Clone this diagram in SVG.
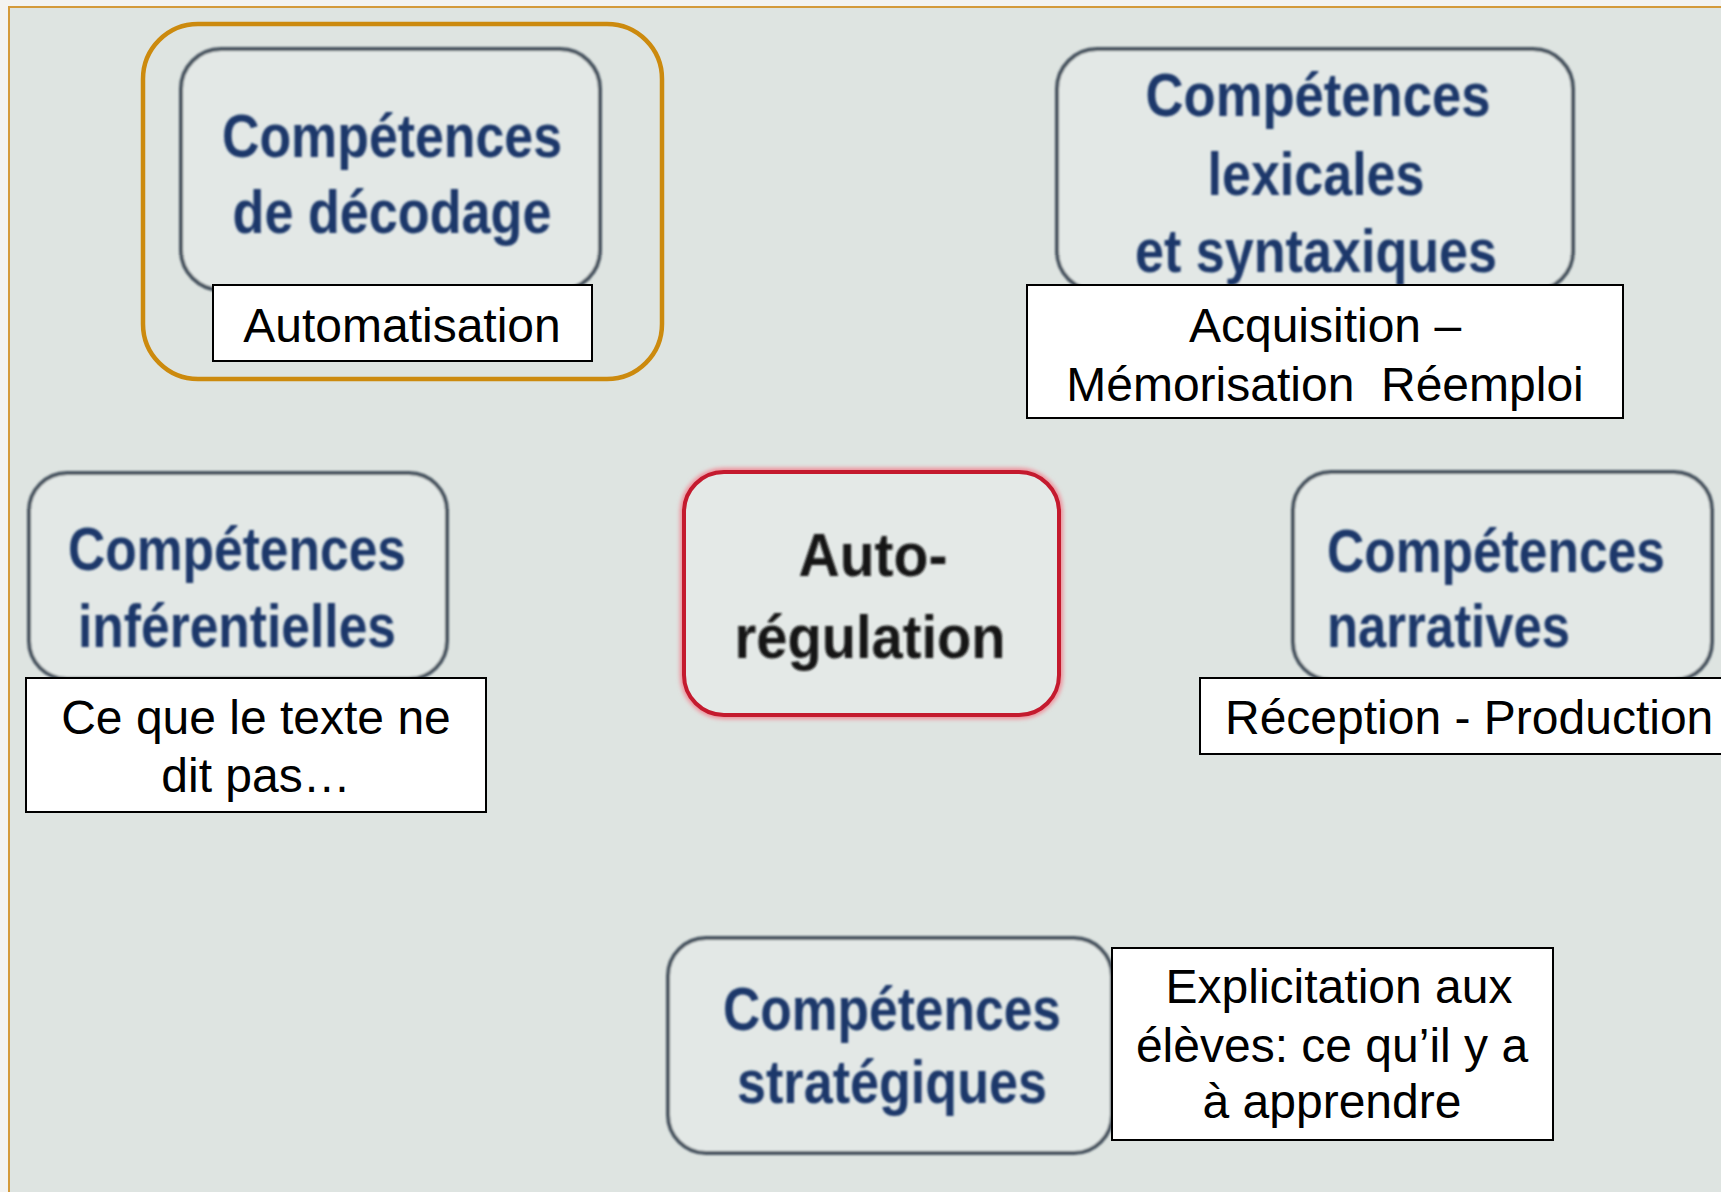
<svg xmlns="http://www.w3.org/2000/svg" width="1721" height="1192" viewBox="0 0 1721 1192">
<defs>
<filter id="soft" x="-5%" y="-5%" width="110%" height="110%"><feGaussianBlur stdDeviation="0.9"/></filter>
<filter id="glow" x="-10%" y="-10%" width="120%" height="120%"><feGaussianBlur stdDeviation="2"/></filter>
<style>
.node{fill:#e3e8e6;stroke:#46525e;stroke-width:4}
.head{font-family:"Liberation Sans",Arial,sans-serif;font-weight:bold;font-size:62px;fill:#1c386b;text-anchor:middle}
.lbl{fill:#ffffff;stroke:#000000;stroke-width:2}
.lt{font-family:"Liberation Sans",Arial,sans-serif;font-size:48px;fill:#000000;text-anchor:middle}
</style>
</defs>
<rect x="0" y="0" width="1721" height="1192" fill="#f3f3f1"/>
<rect x="9" y="7" width="1760" height="1250" fill="#dee4e1" stroke="#d49a3a" stroke-width="2"/>

<g id="connectors"/>

<g id="decodage">
<rect class="node" x="181" y="49" width="419" height="241" rx="40" filter="url(#soft)"/>
<g filter="url(#soft)">
<text class="head" x="392" y="157" textLength="340" lengthAdjust="spacingAndGlyphs">Compétences</text>
<text class="head" x="392" y="233" textLength="319" lengthAdjust="spacingAndGlyphs">de décodage</text>
</g>
<rect class="lbl" x="213" y="285" width="379" height="76"/>
<text class="lt" x="402" y="342">Automatisation</text>
<rect x="143" y="24" width="519" height="355" rx="55" fill="none" stroke="#cc8a0e" stroke-width="4.5"/>
</g>

<g id="lexicales">
<rect class="node" x="1057" y="49" width="516" height="242" rx="40" filter="url(#soft)"/>
<g filter="url(#soft)">
<text class="head" x="1318" y="116" textLength="345" lengthAdjust="spacingAndGlyphs">Compétences</text>
<text class="head" x="1316" y="195" textLength="217" lengthAdjust="spacingAndGlyphs">lexicales</text>
<text class="head" x="1316" y="272" textLength="362" lengthAdjust="spacingAndGlyphs">et syntaxiques</text>
</g>
<rect class="lbl" x="1027" y="285" width="596" height="133"/>
<text class="lt" x="1325" y="342">Acquisition –</text>
<text class="lt" x="1325" y="401" xml:space="preserve">Mémorisation  Réemploi</text>
</g>

<g id="inferentielles">
<rect class="node" x="29" y="473" width="418" height="206" rx="38" filter="url(#soft)"/>
<g filter="url(#soft)">
<text class="head" x="237" y="570" textLength="338" lengthAdjust="spacingAndGlyphs">Compétences</text>
<text class="head" x="237" y="647" textLength="318" lengthAdjust="spacingAndGlyphs">inférentielles</text>
</g>
<rect class="lbl" x="26" y="678" width="460" height="134"/>
<text class="lt" x="256" y="734">Ce que le texte ne</text>
<text class="lt" x="256" y="792">dit pas…</text>
</g>

<g id="autoregulation">
<rect x="684" y="472" width="375" height="243" rx="40" fill="none" stroke="#f08a96" stroke-width="8" filter="url(#glow)"/>
<rect x="684" y="472" width="375" height="243" rx="40" fill="#e4e9e7" stroke="#c41a2e" stroke-width="4"/>
<g filter="url(#soft)">
<text class="head" x="873" y="576" style="fill:#121212" textLength="149" lengthAdjust="spacingAndGlyphs">Auto-</text>
<text class="head" x="870" y="658" style="fill:#121212" textLength="271" lengthAdjust="spacingAndGlyphs">régulation</text>
</g>
</g>

<g id="narratives">
<rect class="node" x="1293" y="472" width="419" height="208" rx="38" filter="url(#soft)"/>
<g filter="url(#soft)">
<text class="head" x="1327" y="572" style="text-anchor:start" textLength="338" lengthAdjust="spacingAndGlyphs">Compétences</text>
<text class="head" x="1327" y="647" style="text-anchor:start" textLength="243" lengthAdjust="spacingAndGlyphs">narratives</text>
</g>
<rect class="lbl" x="1200" y="678" width="540" height="76"/>
<text class="lt" x="1225" y="734" style="text-anchor:start">Réception - Production</text>
</g>

<g id="strategiques">
<rect class="node" x="668" y="938" width="444" height="215" rx="38" filter="url(#soft)"/>
<g filter="url(#soft)">
<text class="head" x="892" y="1030" textLength="338" lengthAdjust="spacingAndGlyphs">Compétences</text>
<text class="head" x="892" y="1103" textLength="310" lengthAdjust="spacingAndGlyphs">stratégiques</text>
</g>
<rect class="lbl" x="1112" y="948" width="441" height="192"/>
<text class="lt" x="1339" y="1003">Explicitation aux</text>
<text class="lt" x="1332" y="1062">élèves: ce qu’il y a</text>
<text class="lt" x="1332" y="1118">à apprendre</text>
</g>
</svg>
